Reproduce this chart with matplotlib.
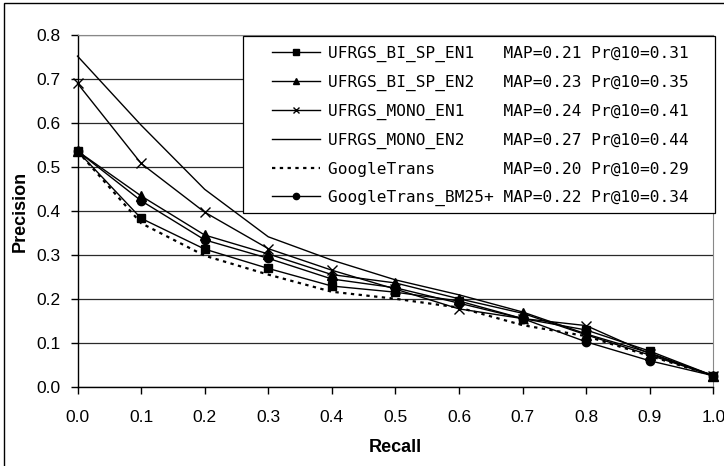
import matplotlib
matplotlib.use("Agg")
import matplotlib.pyplot as plt
from matplotlib.patches import Rectangle

# interpolated precision at 11 standard recall levels
recall = [0.0, 0.1, 0.2, 0.3, 0.4, 0.5, 0.6, 0.7, 0.8, 0.9, 1.0]

bi_sp_en1 = [0.536, 0.383, 0.313, 0.269, 0.229, 0.215, 0.195, 0.155, 0.129, 0.081, 0.025]
bi_sp_en2 = [0.536, 0.434, 0.345, 0.302, 0.255, 0.236, 0.200, 0.167, 0.118, 0.072, 0.025]
mono_en1 = [0.690, 0.508, 0.397, 0.314, 0.265, 0.222, 0.177, 0.155, 0.139, 0.075, 0.025]
mono_en2 = [0.752, 0.595, 0.449, 0.341, 0.288, 0.243, 0.209, 0.170, 0.120, 0.077, 0.025]
google = [0.536, 0.372, 0.298, 0.255, 0.216, 0.200, 0.180, 0.140, 0.115, 0.070, 0.025]
google_bm25 = [0.536, 0.423, 0.334, 0.292, 0.245, 0.225, 0.190, 0.155, 0.102, 0.059, 0.025]

run_names = ["UFRGS_BI_SP_EN1", "UFRGS_BI_SP_EN2", "UFRGS_MONO_EN1",
             "UFRGS_MONO_EN2", "GoogleTrans", "GoogleTrans_BM25+"]
map_scores = [0.21, 0.23, 0.24, 0.27, 0.20, 0.22]
p_at_10 = [0.31, 0.35, 0.41, 0.44, 0.29, 0.34]

y_ticks = [0.0, 0.1, 0.2, 0.3, 0.4, 0.5, 0.6, 0.7, 0.8]
x_ticks = [0.0, 0.1, 0.2, 0.3, 0.4, 0.5, 0.6, 0.7, 0.8, 0.9, 1.0]

plt.rcParams["font.family"] = ["Liberation Sans", "DejaVu Sans"]

W, H = 724, 466


def fx(px):
    return px / W


def fy(py):
    return 1 - py / H


fig = plt.figure(figsize=(7.24, 4.66), dpi=100)
# chart-area border (runs off the right and bottom edges)
fig.patches.append(Rectangle((fx(4), -0.05), 1.2, fy(3) + 0.05,
                             transform=fig.transFigure, fill=False,
                             edgecolor="black", linewidth=1.0))

ax = fig.add_axes([fx(77.5), fy(386.7), fx(713.3) - fx(77.5), fy(35) - fy(386.7)])

series = [bi_sp_en1, bi_sp_en2, mono_en1, mono_en2, google, google_bm25]
styles = [
    dict(marker="s", markersize=6.0, linestyle="-"),
    dict(marker="^", markersize=6.5, linestyle="-"),
    dict(marker="x", markersize=6.5, linestyle="-", markeredgewidth=1.0),
    dict(marker=None, linestyle="-"),
    dict(marker=None, linestyle=(0, (1.5, 2.0)), linewidth=1.6),
    dict(marker="o", markersize=6.0, linestyle="-"),
]

for vals, name, m, p, st in zip(series, run_names, map_scores, p_at_10, styles):
    kw = dict(color="black", linewidth=1.0)
    kw.update(st)
    label = f"{name:<18}MAP={m:.2f} Pr@10={p:.2f}"
    ax.plot(recall, vals, label=label, clip_on=False, zorder=3, **kw)

ax.set_xlim(0.0, 1.0)
ax.set_ylim(0.0, 0.8)
ax.set_xticks(x_ticks)
ax.set_xticklabels([f"{v:.1f}" for v in x_ticks])
ax.set_yticks(y_ticks)
ax.set_yticklabels([f"{v:.1f}" for v in y_ticks])
ax.tick_params(axis="both", direction="out", length=5, width=1.0,
               labelsize=12.5, color="black")
ax.tick_params(axis="x", pad=12)
ax.tick_params(axis="y", pad=7)

ax.grid(axis="y", color="#2a2a2a", linewidth=0.9)
ax.set_axisbelow(True)
for side in ["top", "right"]:
    ax.spines[side].set_color("#888888")
    ax.spines[side].set_linewidth(0.8)
for side in ["left", "bottom"]:
    ax.spines[side].set_color("black")
    ax.spines[side].set_linewidth(1.0)

fig.text(fx(20), fy(211), "Precision", rotation=90, ha="center", va="center",
         fontsize=13, fontweight="bold")
fig.text(fx(395), fy(448), "Recall", ha="center", va="center",
         fontsize=13, fontweight="bold")

# legend box drawn separately so the padding can be uneven
ax.add_patch(Rectangle((fx(243), fy(213)), fx(715) - fx(243), fy(36) - fy(213),
                       transform=fig.transFigure, facecolor="white",
                       edgecolor="black", linewidth=0.9, clip_on=False, zorder=4))

leg = ax.legend(loc="center left", bbox_to_anchor=(fx(272), fy(126)),
                bbox_transform=fig.transFigure, borderaxespad=0, borderpad=0,
                prop={"family": "DejaVu Sans Mono", "size": 11.6},
                handlelength=3.0, handletextpad=0.45, labelspacing=0.8,
                markerscale=0.75, frameon=False)
leg.set_zorder(5)

fig.savefig("out.png", dpi=100)
